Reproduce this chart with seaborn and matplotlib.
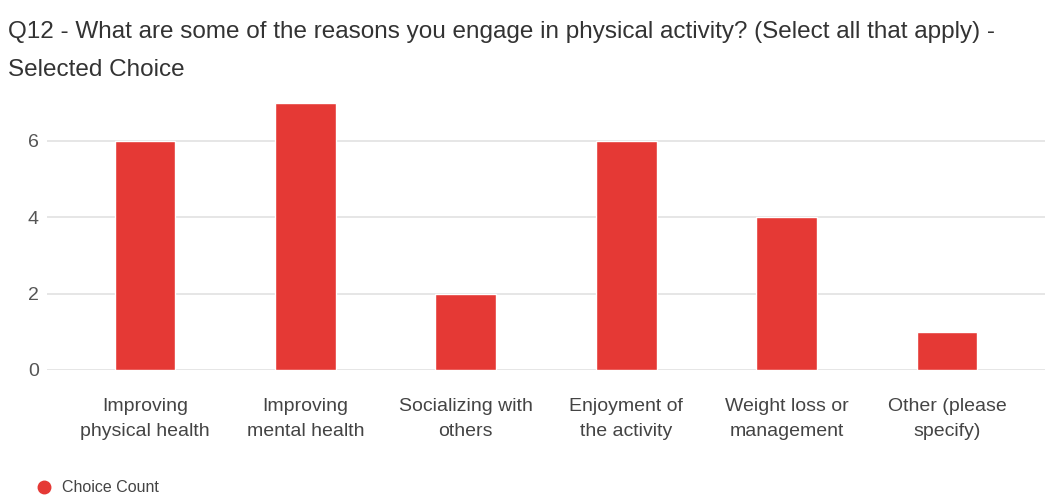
import matplotlib
matplotlib.use("Agg")
import matplotlib.pyplot as plt
import seaborn as sns
import pandas as pd
from matplotlib.lines import Line2D

categories = ["Improving\nphysical health", "Improving\nmental health", "Socializing with\nothers",
              "Enjoyment of\nthe activity", "Weight loss or\nmanagement", "Other (please\nspecify)"]
counts = [6, 7, 2, 6, 4, 1]
yticks = [0, 2, 4, 6]
title = "Q12 - What are some of the reasons you engage in physical activity? (Select all that apply) -\nSelected Choice"
legend_label = "Choice Count"
bar_color = "#E53935"

sns.set_theme(style="white")
plt.rcParams['font.family'] = ['Liberation Sans', 'DejaVu Sans']

df = pd.DataFrame({"category": categories, "count": counts})

fig = plt.figure(figsize=(10.45, 4.99), dpi=100)
ax = fig.add_axes([47/1045, 1 - 370/499, (1045-47)/1045, (370-99)/499])
sns.barplot(data=df, x="category", y="count", color=bar_color, width=0.38, ax=ax, saturation=1)

ax.set_xlim(-0.611, 5.611)
ax.set_ylim(0, 7.1)
ax.set_yticks(yticks)
ax.yaxis.grid(True, color="#e2e2e2", linewidth=1.2)
ax.set_axisbelow(True)
for s in ax.spines.values():
    s.set_visible(False)
ax.set_xlabel("")
ax.set_ylabel("")
ax.tick_params(axis="y", length=0, pad=6, labelsize=14, labelcolor="#555555")
ax.tick_params(axis="x", length=0, pad=20, labelsize=14, labelcolor="#444444")
for lab in ax.get_xticklabels():
    lab.set_linespacing(1.6)

fig.text(8/1045, 1 - 21/499, title, ha="left", va="top", fontsize=17.5, color="#333333",
         family=['Liberation Sans Narrow', 'Liberation Sans', 'DejaVu Sans'], linespacing=1.95)

fig.legend(handles=[Line2D([0], [0], marker="o", color="w", markerfacecolor=bar_color,
                           markeredgecolor=bar_color, markersize=9, label=legend_label)],
           loc="center left", bbox_to_anchor=(20/1045, 1 - 488/499), frameon=False,
           fontsize=11.5, handletextpad=0.5, handlelength=1.2,
           labelcolor="#444444")

fig.savefig("out.png", dpi=100)
